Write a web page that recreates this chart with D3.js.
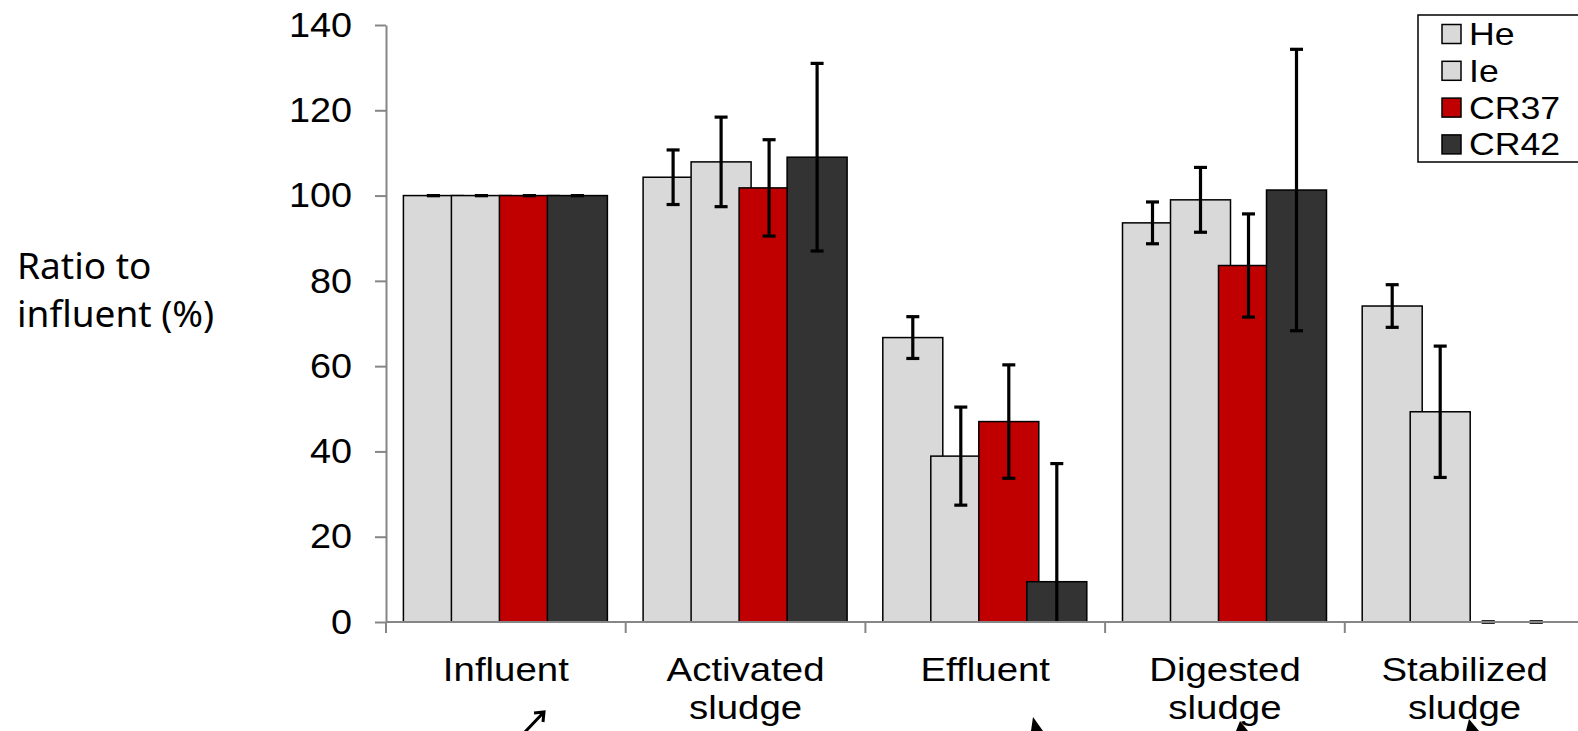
<!DOCTYPE html>
<html>
<head>
<meta charset="utf-8">
<script src="https://cdn.jsdelivr.net/npm/d3@7"></script>
<style>
  html, body { margin: 0; padding: 0; background: #fff; overflow: hidden; }
  svg { display: block; }
</style>
</head>
<body>
<svg id="chart" width="1578" height="731" font-family="Liberation Sans, Arial, sans-serif"></svg>
<script>
const categories = [["Influent"], ["Activated", "sludge"], ["Effluent"], ["Digested", "sludge"], ["Stabilized", "sludge"]];
const seriesNames = ["He", "Ie", "CR37", "CR42"];
const seriesColors = ["#d9d9d9", "#d9d9d9", "#c00000", "#333333"];
const heValues   = [100, 104.3, 66.7, 93.6, 74.1];
const heErrors   = [0, 6.4, 4.9, 4.9, 5.0];
const ieValues   = [100, 107.9, 38.9, 99.0, 49.3];
const ieErrors   = [0, 10.5, 11.5, 7.6, 15.4];
const cr37Values = [100, 101.8, 47.0, 83.6, 0];
const cr37Errors = [0, 11.3, 13.3, 12.1, 0];
const cr42Values = [100, 109.0, 9.45, 101.3, 0];
const cr42Errors = [0, 22.0, 27.7, 33.0, 0];
const yTicks = [0, 20, 40, 60, 80, 100, 120, 140];

const values = [heValues, ieValues, cr37Values, cr42Values];
const errors = [heErrors, ieErrors, cr37Errors, cr42Errors];
const catKeys = categories.map(c => c.join(" "));

const svg = d3.select("#chart");
const y = d3.scaleLinear().domain([0, 140]).range([622, 25]);
const x = d3.scaleBand().domain(catKeys).range([386, 386 + 5 * 239.7]).paddingInner(0).paddingOuter(0);

const barW = 60, barStep = 48, barOffset = 17.4;
const data = [];
catKeys.forEach((c, i) => {
  seriesNames.forEach((s, j) => {
    data.push({cat: c, s: j, v: values[j][i], e: errors[j][i]});
  });
});
const bx = d => x(d.cat) + barOffset + d.s * barStep;

// bars (drawn in order so later ones overlap earlier ones)
svg.append("g").selectAll("rect").data(data.filter(d => d.v > 0)).join("rect")
  .attr("x", bx)
  .attr("y", d => y(d.v))
  .attr("width", barW)
  .attr("height", d => y(0) - y(d.v))
  .attr("fill", d => seriesColors[d.s])
  .attr("stroke", "#000")
  .attr("stroke-width", 1.5);

// error bars
const eg = svg.append("g").attr("stroke", "#000").attr("stroke-width", 3.2);
data.forEach(d => {
  const cx = bx(d) + barW / 2;
  const hi = d.v + d.e, lo = Math.max(0, d.v - d.e);
  if (d.e > 0) {
    eg.append("line").attr("x1", cx).attr("x2", cx).attr("y1", y(hi)).attr("y2", y(lo));
  }
  eg.append("line").attr("x1", cx - 6.5).attr("x2", cx + 6.5).attr("y1", y(hi)).attr("y2", y(hi));
  if (d.v - d.e >= 0) {
    eg.append("line").attr("x1", cx - 6.5).attr("x2", cx + 6.5).attr("y1", y(lo)).attr("y2", y(lo));
  }
});

// y axis
const tickSx = 1.08;
const yAxis = svg.append("g").attr("transform", "translate(386,0)")
  .call(d3.axisLeft(y).tickValues(yTicks).tickSize(11).tickPadding(23).tickSizeOuter(0));
yAxis.select(".domain").attr("stroke", "#868686").attr("stroke-width", 2);
yAxis.selectAll(".tick line").attr("stroke", "#868686").attr("stroke-width", 2);
yAxis.selectAll(".tick text")
  .attr("font-size", 35)
  .attr("font-family", "Liberation Sans, Arial, sans-serif")
  .attr("fill", "#000")
  .attr("x", -34 / tickSx)
  .attr("transform", `scale(${tickSx},1)`);

// x axis
const xAxis = svg.append("g").attr("transform", "translate(0,622)");
xAxis.append("line").attr("x1", 386).attr("x2", 1578).attr("y1", 0).attr("y2", 0)
  .attr("stroke", "#868686").attr("stroke-width", 2);
catKeys.forEach(c => {
  xAxis.append("line").attr("x1", x(c)).attr("x2", x(c)).attr("y1", 0).attr("y2", 11)
    .attr("stroke", "#868686").attr("stroke-width", 2);
});
const catSx = 1.13;
catKeys.forEach((c, i) => {
  const cx = x(c) + x.bandwidth() / 2;
  const t = xAxis.append("text").attr("text-anchor", "middle").attr("font-size", 34)
    .attr("transform", `translate(${cx},59) scale(${catSx},1)`);
  categories[i].forEach((line, k) => {
    t.append("tspan").attr("x", 0).attr("y", k * 38).text(line);
  });
});

// y label
const yl = svg.append("text").attr("font-family", "Noto Sans, Open Sans, sans-serif").attr("font-size", 37);
yl.append("tspan").attr("x", 17).attr("y", 279).text("Ratio to");
yl.append("tspan").attr("x", 17).attr("y", 327).text("influent (%)");

// legend
const lg = svg.append("g");
lg.append("rect").attr("x", 1418).attr("y", 15).attr("width", 200).attr("height", 147)
  .attr("fill", "#fff").attr("stroke", "#000").attr("stroke-width", 1.5);
const legSx = 1.15;
seriesNames.forEach((s, j) => {
  const cy = 34 + j * 36.8;
  lg.append("rect").attr("x", 1442).attr("y", cy - 9.5).attr("width", 19).attr("height", 19)
    .attr("fill", seriesColors[j]).attr("stroke", "#000").attr("stroke-width", 1.5);
  lg.append("text").attr("font-size", 31)
    .attr("transform", `translate(1469,${cy + 11}) scale(${legSx},1)`).text(s);
});

// partial flow arrows cut off at the bottom edge
const ag = svg.append("g").attr("stroke", "#000").attr("stroke-width", 3).attr("fill", "none");
ag.append("path").attr("d", "M524,733 L544,712 M534,713 L544,712 L543,722");
svg.append("path").attr("d", "M1031,731 L1033,717 L1043,731 Z").attr("fill", "#000");
svg.append("path").attr("d", "M1236,731 L1240,721 L1248,731 Z").attr("fill", "#000");
svg.append("path").attr("d", "M1466,731 L1469,719 L1479,731 Z").attr("fill", "#000");
</script>
</body>
</html>
